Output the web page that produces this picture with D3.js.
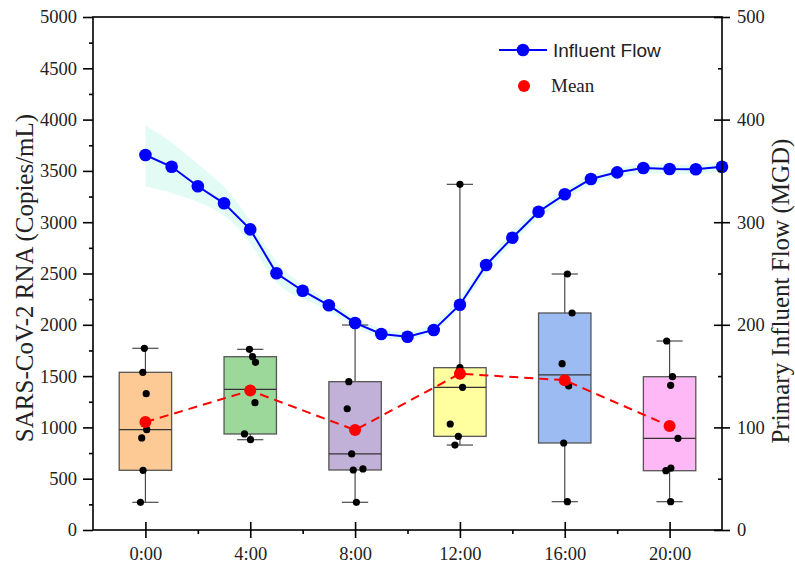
<!DOCTYPE html>
<html><head><meta charset="utf-8">
<script src="https://cdn.jsdelivr.net/npm/d3@7"></script>
<style>body{margin:0;background:#fff}svg{display:block}</style>
</head><body>
<svg id="chart" width="795" height="564"></svg>
<script>
// ---- data ----
const flowHours = [0,1,2,3,4,5,6,7,8,9,10,11,12,13,14,15,16,17,18,19,20,21,22];
const flowValues = [365.5,354,335,318.4,293,250.2,233.2,219,201.8,191,188.4,195,219.6,258.3,284.9,310.2,327.2,342.1,348.6,352.8,351.9,351.6,354.1];
const flowUpper = [394,379,356,337,303,257,239,224,206,195,192,199,224,264,291,315,332,347,353,357,356,356,358];
const flowLower = [335,329,320,309,283,235,226,214,197,187,184,191,215,252,279,305,322,337,344,348,347,347,349];

const boxLabels = ["0:00","4:00","8:00","12:00","16:00","20:00"];
const boxHours = [0,4,8,12,16,20];
const boxPoints = [
  [1771,1537,1329,978,897,582,270],
  [1761,1689,1634,1371,1241,936,880],
  [1998,1446,1182,741,585,595,270],
  [3369,1582,1550,1391,1033,913,828],
  [2495,2115,1621,1404,848,276],
  [1842,1494,1410,894,604,578,276]
];
// horizontal jitter of the raw points (in hours)
const boxJitter = [
  [-0.04,-0.10,0.03,0.05,-0.14,-0.09,-0.19],
  [-0.03,0.09,0.20,-0.05,0.18,-0.22,0.01],
  [0,-0.24,-0.30,-0.13,-0.07,0.30,0.05],
  [0,0,-0.02,0.10,-0.37,-0.06,-0.19],
  [0.10,0.28,-0.10,0.15,-0.04,0.10],
  [-0.11,0.11,0.04,0.32,0.05,-0.14,0.04]
];
const boxColors = ["#FDCA96","#9DD89B","#C1B0D8","#FFFF9F","#9DBBF3","#FFB8F6"];
const leftTicks = [0,500,1000,1500,2000,2500,3000,3500,4000,4500,5000];
const rightTicks = [0,100,200,300,400,500];

// ---- layout ----
const svg = d3.select("#chart");
const L=93, R=722, T=17, B=530;
const x = d3.scaleLinear().domain([-2,22]).range([L,R]);
const yL = d3.scaleLinear().domain([0,5000]).range([B,T]);
const yR = d3.scaleLinear().domain([0,500]).range([B,T]);
const serif = "'Liberation Serif','Times New Roman',serif";
const sans = "'Liberation Sans',Arial,sans-serif";
const fmt = d3.format("d");

// band
const bandData = flowHours.map((h,i)=>({h, lo:flowLower[i], hi:flowUpper[i]}));
svg.append("path").datum(bandData)
  .attr("d", d3.area().x(d=>x(d.h)).y0(d=>yR(d.lo)).y1(d=>yR(d.hi)).curve(d3.curveBasis))
  .attr("fill","#E2FCF5");

// box stats
function q(sorted,p){ return sorted[Math.ceil(sorted.length*p)-1]; }
const stats = boxPoints.map((pts,i)=>{
  const s = pts.slice().sort((a,b)=>a-b);
  return {h:boxHours[i], min:s[0], max:s[s.length-1], q1:q(s,0.25), q3:q(s,0.75),
          med:d3.median(s), mean:d3.mean(s), color:boxColors[i]};
});
const halfW = (x(2)-x(0))/2;
const capW = (x(1)-x(0))/2;
const g = svg.append("g");
stats.forEach(s=>{
  const cx = x(s.h);
  g.append("line").attr("x1",cx).attr("x2",cx).attr("y1",yL(s.max)).attr("y2",yL(s.q3)).attr("stroke","#4a4a4a").attr("stroke-width",1.2);
  g.append("line").attr("x1",cx).attr("x2",cx).attr("y1",yL(s.q1)).attr("y2",yL(s.min)).attr("stroke","#4a4a4a").attr("stroke-width",1.2);
  g.append("line").attr("x1",cx-capW).attr("x2",cx+capW).attr("y1",yL(s.max)).attr("y2",yL(s.max)).attr("stroke","#4a4a4a").attr("stroke-width",1.2);
  g.append("line").attr("x1",cx-capW).attr("x2",cx+capW).attr("y1",yL(s.min)).attr("y2",yL(s.min)).attr("stroke","#4a4a4a").attr("stroke-width",1.2);
  g.append("rect").attr("x",cx-halfW).attr("width",2*halfW).attr("y",yL(s.q3)).attr("height",yL(s.q1)-yL(s.q3))
    .attr("fill",s.color).attr("stroke","#555").attr("stroke-width",1.3);
  g.append("line").attr("x1",cx-halfW).attr("x2",cx+halfW).attr("y1",yL(s.med)).attr("y2",yL(s.med)).attr("stroke","#333").attr("stroke-width",1.3);
});
// raw points
boxPoints.forEach((pts,i)=>{
  g.selectAll(null).data(pts).enter().append("circle")
    .attr("cx",(d,j)=>x(boxHours[i]+boxJitter[i][j])).attr("cy",d=>yL(d)).attr("r",3.6).attr("fill","#000");
});
// mean line + dots
svg.append("path").datum(stats)
  .attr("d", d3.line().x(d=>x(d.h)).y(d=>yL(d.mean)))
  .attr("fill","none").attr("stroke","#FF0000").attr("stroke-width",2).attr("stroke-dasharray","9,6");
svg.selectAll(null).data(stats).enter().append("circle")
  .attr("cx",d=>x(d.h)).attr("cy",d=>yL(d.mean)).attr("r",6).attr("fill","#FF0000");

// flow line
const flowData = flowHours.map((h,i)=>({h,v:flowValues[i]}));
svg.append("path").datum(flowData)
  .attr("d", d3.line().x(d=>x(d.h)).y(d=>yR(d.v)))
  .attr("fill","none").attr("stroke","#0000FF").attr("stroke-width",2);
svg.selectAll(null).data(flowData).enter().append("circle")
  .attr("cx",d=>x(d.h)).attr("cy",d=>yR(d.v)).attr("r",6.3).attr("fill","#0000FF");

// frame
svg.append("rect").attr("x",L).attr("y",T).attr("width",R-L).attr("height",B-T)
  .attr("fill","none").attr("stroke","#000").attr("stroke-width",1.6);

// left axis
const la = svg.append("g").attr("transform",`translate(${L},0)`)
  .call(d3.axisLeft(yL).tickValues(leftTicks).tickFormat(fmt).tickSize(10).tickPadding(6).tickSizeOuter(0));
la.select(".domain").remove();
la.selectAll("line").attr("stroke-width",1.6);
la.selectAll("text").attr("font-family",serif).attr("font-size","18.5px").attr("fill","#222");
const lm = svg.append("g").attr("transform",`translate(${L},0)`)
  .call(d3.axisLeft(yL).tickValues(leftTicks.slice(0,-1).map(v=>v+250)).tickSize(4).tickFormat(""));
lm.select(".domain").remove(); lm.selectAll("line").attr("stroke-width",1.6);

// right axis
const ra = svg.append("g").attr("transform",`translate(${R},0)`)
  .call(d3.axisRight(yR).tickValues(rightTicks).tickFormat(fmt).tickSize(8).tickPadding(7).tickSizeOuter(0));
ra.select(".domain").remove();
ra.selectAll("line").attr("x1",-8).attr("x2",8).attr("stroke-width",1.6);
ra.selectAll("text").attr("font-family",serif).attr("font-size","18.5px").attr("fill","#222");
const rm = svg.append("g").attr("transform",`translate(${R},0)`)
  .call(d3.axisRight(yR).tickValues(rightTicks.slice(0,-1).map(v=>v+50)).tickSize(4).tickFormat(""));
rm.select(".domain").remove(); rm.selectAll("line").attr("x1",-4).attr("x2",0).attr("stroke-width",1.6);

// bottom axis
const ba = svg.append("g").attr("transform",`translate(0,${B})`)
  .call(d3.axisBottom(x).tickValues(boxHours).tickFormat((d,i)=>boxLabels[i]).tickSize(8).tickPadding(9).tickSizeOuter(0));
ba.select(".domain").remove();
ba.selectAll("line").attr("y1",-8).attr("y2",8).attr("stroke-width",1.6);
ba.selectAll("text").attr("font-family",serif).attr("font-size","18.5px").attr("fill","#222");
const bm = svg.append("g").attr("transform",`translate(0,${B})`)
  .call(d3.axisBottom(x).tickValues(boxHours.map(h=>h+2).filter(h=>h<22)).tickSize(4).tickFormat(""));
bm.select(".domain").remove(); bm.selectAll("line").attr("stroke-width",1.6);

// titles
svg.append("text").attr("transform","translate(33,278) rotate(-90)").attr("text-anchor","middle")
  .attr("font-family",serif).attr("font-size","25px").attr("fill","#222").text("SARS-CoV-2 RNA (Copies/mL)");
svg.append("text").attr("transform","translate(789,291) rotate(-90)").attr("text-anchor","middle")
  .attr("font-family",serif).attr("font-size","25px").attr("fill","#222").text("Primary Influent Flow (MGD)");

// legend
svg.append("line").attr("x1",499).attr("x2",547).attr("y1",50).attr("y2",50).attr("stroke","#0000FF").attr("stroke-width",2);
svg.append("circle").attr("cx",523).attr("cy",50).attr("r",6.3).attr("fill","#0000FF");
svg.append("text").attr("x",553).attr("y",57).attr("font-family",sans).attr("font-size","19px").attr("fill","#222").text("Influent Flow");
svg.append("circle").attr("cx",524).attr("cy",86).attr("r",6).attr("fill","#FF0000");
svg.append("text").attr("x",551).attr("y",92).attr("font-family",serif).attr("font-size","19px").attr("fill","#222").text("Mean");
</script>
</body></html>
